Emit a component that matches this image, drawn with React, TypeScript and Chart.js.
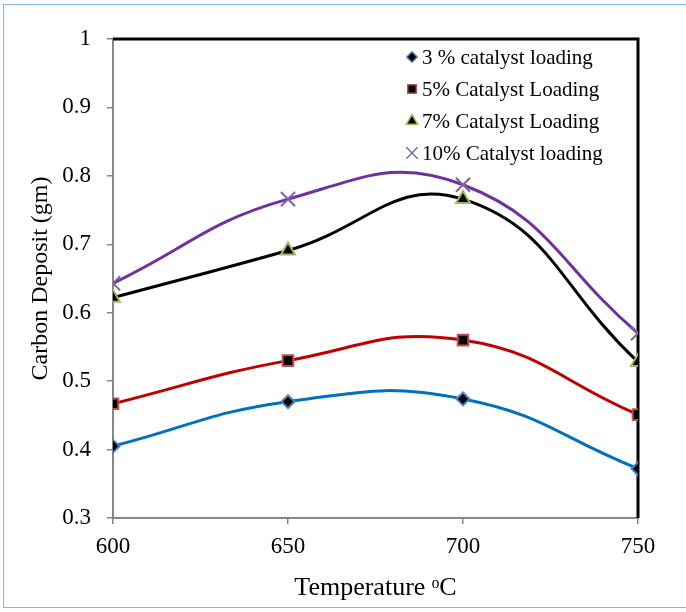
import React, { useEffect, useRef } from 'react';
import { Chart, registerables } from 'chart.js';
import { drawPoint } from 'chart.js/helpers';

Chart.register(...registerables);

const temperatures = [600, 650, 700, 750];
const load3 = [0.405, 0.47, 0.474, 0.372];
const load5 = [0.467, 0.53, 0.56, 0.451];
const load7 = [0.622, 0.691, 0.766, 0.528];
const load10 = [0.643, 0.766, 0.787, 0.57];
const seriesLabels = [
  '3 % catalyst loading',
  '5% Catalyst Loading',
  '7% Catalyst Loading',
  '10% Catalyst loading',
];
const xTicks = [600, 650, 700, 750];
const yTicks = [0.3, 0.4, 0.5, 0.6, 0.7, 0.8, 0.9, 1];

const FONT = '"Liberation Serif", "Times New Roman", serif';

const pts = (ys: number[]) => temperatures.map((x, i) => ({ x, y: ys[i] }));

const frameLines = {
  id: 'frameLines',
  beforeDatasetsDraw(chart: any) {
    const { ctx, chartArea } = chart;
    ctx.save();
    ctx.strokeStyle = '#000';
    ctx.lineWidth = 3;
    ctx.beginPath();
    ctx.moveTo(chartArea.left, chartArea.top);
    ctx.lineTo(chartArea.right, chartArea.top);
    ctx.lineTo(chartArea.right, chartArea.bottom);
    ctx.stroke();
    ctx.restore();
  },
};

const insideLegend = {
  id: 'insideLegend',
  afterDraw(chart: any) {
    const { ctx } = chart;
    ctx.save();
    ctx.font = '21px ' + FONT;
    ctx.textBaseline = 'middle';
    ctx.textAlign = 'left';
    chart.data.datasets.forEach((ds: any, i: number) => {
      const y = 57 + i * 32;
      const mx = 412;
      ctx.fillStyle = ds.pointBackgroundColor;
      ctx.strokeStyle = ds.pointBorderColor;
      ctx.lineWidth = 1.5;
      drawPoint(ctx, { pointStyle: ds.pointStyle, radius: ds.pointRadius * 0.8, rotation: 0, borderWidth: 1.5 }, mx, y);
      ctx.fillStyle = '#000';
      ctx.fillText(seriesLabels[i], mx + 10, y + 1);
    });
    ctx.restore();
  },
};

export default function App() {
  const ref = useRef<HTMLCanvasElement>(null);
  useEffect(() => {
    if (!ref.current) return;
    Chart.defaults.font.family = FONT;
    const common = { tension: 0.45, borderWidth: 3, pointBorderWidth: 2, fill: false };
    const chart = new Chart(ref.current, {
      type: 'scatter',
      data: {
        datasets: [
          {
            ...common,
            label: seriesLabels[0],
            data: pts(load3),
            showLine: true,
            borderColor: '#0070C0',
            pointStyle: 'rectRot',
            pointRadius: 6.5,
            pointBackgroundColor: '#000',
            pointBorderColor: '#4F81BD',
          },
          {
            ...common,
            label: seriesLabels[1],
            data: pts(load5),
            showLine: true,
            borderColor: '#C00000',
            pointStyle: 'rect',
            pointRadius: 7.5,
            pointBackgroundColor: '#000',
            pointBorderColor: '#C0504D',
          },
          {
            ...common,
            label: seriesLabels[2],
            data: pts(load7),
            showLine: true,
            borderColor: '#000',
            pointStyle: 'triangle',
            pointRadius: 8,
            pointBackgroundColor: '#000',
            pointBorderColor: '#9BBB59',
          },
          {
            ...common,
            label: seriesLabels[3],
            data: pts(load10),
            showLine: true,
            borderColor: '#7030A0',
            pointStyle: 'crossRot',
            pointRadius: 10,
            pointBackgroundColor: '#8064A2',
            pointBorderColor: '#8064A2',
          },
        ],
      },
      options: {
        responsive: false,
        animation: false,
        events: [],
        layout: { padding: { top: 39, right: 48, bottom: 0, left: 0 } },
        plugins: {
          legend: { display: false },
          tooltip: { enabled: false },
        },
        scales: {
          x: {
            type: 'linear',
            min: 600,
            max: 750,
            afterBuildTicks: (s: any) => { s.ticks = xTicks.map((v) => ({ value: v })); },
            afterFit: (s: any) => { s.height = 94; },
            grid: { drawOnChartArea: false, drawTicks: true, tickLength: 6, color: '#868686', lineWidth: 1.5 },
            border: { display: true, color: '#868686', width: 2 },
            ticks: { color: '#000', font: { size: 23 }, padding: 9, maxRotation: 0 },
            title: { display: true, text: 'Temperature ᵒC', color: '#000', font: { size: 26 }, padding: { top: 0, bottom: 8 } },
          },
          y: {
            type: 'linear',
            min: 0.3,
            max: 1,
            afterBuildTicks: (s: any) => { s.ticks = yTicks.map((v) => ({ value: v })); },
            afterFit: (s: any) => { s.width = 113; },
            grid: { drawOnChartArea: false, drawTicks: true, tickLength: 6, color: '#868686', lineWidth: 1.5 },
            border: { display: true, color: '#868686', width: 2 },
            ticks: {
              color: '#000',
              font: { size: 23 },
              padding: 16,
              callback: (v: any) => (v === 1 ? '1' : Number(v).toFixed(1)),
            },
            title: { display: true, text: 'Carbon Deposit (gm)', color: '#000', font: { size: 24 }, padding: { top: 26, bottom: 0 } },
          },
        },
      },
      plugins: [frameLines, insideLegend],
    } as any);
    return () => chart.destroy();
  }, []);

  return (
    <div style={{ position: 'absolute', left: 0, top: 0, width: 686, height: 612, background: '#fff', overflow: 'hidden' }}>
      <div style={{ position: 'absolute', left: 3, top: 4, width: 700, height: 604, border: '1px solid #8DB3E2', boxSizing: 'border-box' }} />
      <canvas ref={ref} width={686} height={612} style={{ position: 'absolute', left: 0, top: 0, display: 'block' }} />
    </div>
  );
}
